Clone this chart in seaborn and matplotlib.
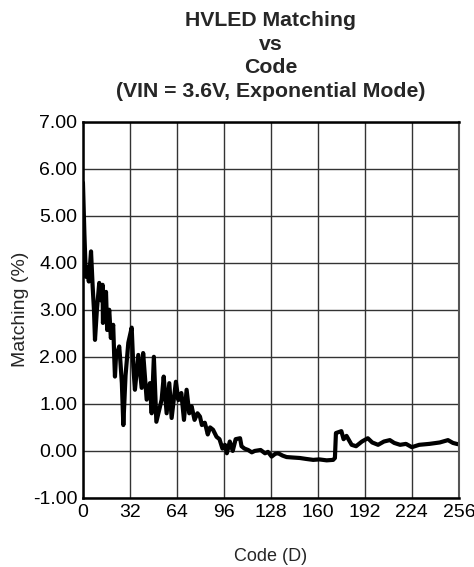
import numpy as np
import pandas as pd
import matplotlib
matplotlib.use("Agg")
import matplotlib.pyplot as plt
import seaborn as sns

# ==========================
# Data
# ==========================

code = [0, 1.0, 2.0, 3.0, 4.0, 5.5, 6.6, 7.5, 8.2, 9.5, 11.1, 12.3, 13.4, 13.6,
        14.5, 15.7, 16.5, 17.9, 19, 20.6, 21.3, 21.8, 22.5, 24.7, 25.5, 26.5, 27.5,
        29, 30.9, 33.2, 34.3, 35.4, 37.7, 40, 41, 43.4, 45.6, 46.8, 48.3, 50, 53.6,
        55, 57, 58.8, 60.4, 63.3, 65, 67, 68.8, 70.6, 72.4, 74, 76, 78, 79.7, 81,
        83, 84, 85, 86.6, 88.6, 91, 93, 95, 96.7, 98, 100, 102, 104, 107, 108, 110,
        112.5, 115, 117, 121, 124, 126, 128.5, 131, 133, 136, 138.7, 143, 147.7,
        152, 156.8, 161, 166, 170.4, 171.6, 172.3, 176, 177.5, 179.5, 183, 186,
        190, 194, 197, 201, 205, 209, 212, 216, 220, 224, 229, 236, 243, 248.6,
        252, 254.5, 256]

matching = [5.7, 4.6, 3.7, 3.9, 3.6, 4.24, 3.5, 3.0, 2.36, 3.0, 3.57, 3.2,
            3.53, 2.72, 2.9, 3.38, 2.57, 3.0, 2.4, 2.68, 2.0, 1.58, 2.0, 2.22, 1.9,
            1.44, 0.55, 1.6, 2.3, 2.62, 1.79, 1.30, 2.04, 1.34, 2.08, 1.09, 1.44,
            0.8, 2.0, 0.62, 1.09, 1.58, 0.8, 1.44, 0.7, 1.47, 1.08, 1.23, 0.66, 1.3,
            0.8, 0.95, 0.66, 0.8, 0.73, 0.55, 0.6, 0.48, 0.35, 0.5, 0.45, 0.3, 0.25,
            0.05, 0.13, -0.05, 0.2, 0.0, 0.25, 0.27, 0.1, 0.05, 0.02, -0.03, 0.0,
            0.02, -0.05, -0.02, -0.12, -0.06, -0.05, -0.1, -0.13, -0.14, -0.15,
            -0.17, -0.19, -0.18, -0.2, -0.19, -0.15, 0.38, 0.42, 0.25, 0.32, 0.13,
            0.1, 0.2, 0.27, 0.18, 0.13, 0.2, 0.23, 0.17, 0.13, 0.15, 0.08, 0.13,
            0.15, 0.18, 0.23, 0.17, 0.15, 0.14]

x_ticks = [0, 32, 64, 96, 128, 160, 192, 224, 256]
y_ticks = [-1, 0, 1, 2, 3, 4, 5, 6, 7]

df = pd.DataFrame({"Code": code, "Matching": matching})

# ==========================
# Plot
# ==========================

sns.set_style("white")
plt.rcParams["font.family"] = ["Liberation Sans", "DejaVu Sans"]

fig = plt.figure(figsize=(4.74, 5.67), dpi=100)
ax = fig.add_axes([0.175, 0.1217, 0.793, 0.664])

sns.lineplot(data=df, x="Code", y="Matching", ax=ax,
             color="black", linewidth=3.0, sort=False)

ax.set_xlim(0, 256)
ax.set_ylim(-1, 7)
ax.set_xticks(x_ticks)
ax.set_yticks(y_ticks)
ax.set_yticklabels([f"{v:.2f}" for v in y_ticks])
ax.tick_params(axis="both", length=0, labelsize=14, colors="black", pad=4)

ax.grid(True, color="#333333", linewidth=1.0)
for side in ["left", "bottom", "top"]:
    ax.spines[side].set_color("black")
    ax.spines[side].set_linewidth(1.8)
ax.spines["right"].set_color("#555555")
ax.spines["right"].set_linewidth(1.5)

ax.set_xlabel("Code (D)", fontsize=13, labelpad=20)
ax.set_ylabel("Matching (%)", fontsize=14, labelpad=3)
ax.set_title("HVLED Matching\nvs\nCode\n(VIN = 3.6V, Exponential Mode)",
             fontsize=15.3, fontweight="bold", linespacing=1.3, pad=18)

plt.savefig("out.png", dpi=100)
